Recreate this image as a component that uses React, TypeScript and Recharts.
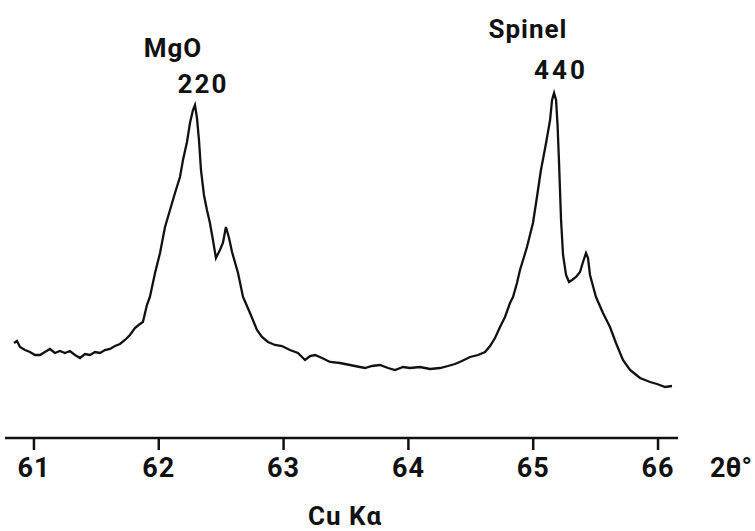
import React from 'react';
import { LineChart, Line, XAxis, YAxis } from 'recharts';

// 2θ (degrees)
const twoTheta = [
  60.84, 60.864, 60.888, 60.928, 60.968, 61.008, 61.048, 61.088, 61.128, 61.168,
  61.208, 61.248, 61.288, 61.329, 61.369, 61.409, 61.449, 61.489, 61.529, 61.569,
  61.609, 61.649, 61.689, 61.729, 61.769, 61.809, 61.849, 61.873, 61.905, 61.929,
  61.97, 62.01, 62.05, 62.09, 62.13, 62.17, 62.194, 62.226, 62.25, 62.274,
  62.29, 62.306, 62.322, 62.338, 62.362, 62.386, 62.41, 62.434, 62.458, 62.49,
  62.514, 62.538, 62.563, 62.587, 62.635, 62.675, 62.731, 62.787, 62.827, 62.875,
  62.931, 62.987, 63.051, 63.115, 63.172, 63.212, 63.252, 63.308, 63.372, 63.452,
  63.532, 63.612, 63.652, 63.708, 63.772, 63.837, 63.893, 63.957, 64.013, 64.093,
  64.173, 64.253, 64.317, 64.373, 64.429, 64.494, 64.558, 64.614, 64.654, 64.694,
  64.734, 64.774, 64.814, 64.838, 64.87, 64.894, 64.926, 64.95, 64.974, 64.998,
  65.03, 65.062, 65.103, 65.135, 65.151, 65.167, 65.183, 65.195, 65.207, 65.223,
  65.239, 65.263, 65.287, 65.311, 65.343, 65.375, 65.399, 65.423, 65.439, 65.455,
  65.503, 65.559, 65.615, 65.663, 65.719, 65.776, 65.816, 65.856, 65.896, 65.936,
  65.992, 66.056, 66.112,
];

// intensity, arbitrary units
const intensity = [
  95, 97, 91, 88, 86, 83, 83, 86, 89, 85,
  87, 85, 87, 83, 80, 84, 83, 86, 85, 88,
  89, 92, 94, 98, 103, 110, 114, 116, 133, 141,
  165, 185, 211, 228, 245, 261, 278, 296, 315, 328,
  333, 320, 298, 268, 243, 228, 215, 198, 180, 188,
  195, 211, 200, 186, 165, 141, 125, 108, 101, 96,
  93, 92, 88, 85, 78, 82, 83, 80, 76, 75,
  73, 71, 70, 72, 73, 70, 68, 71, 70, 71,
  69, 70, 72, 74, 77, 81, 83, 86, 92, 100,
  111, 121, 135, 141, 155, 168, 181, 191, 203, 215,
  241, 268, 295, 318, 338, 345, 338, 313, 275, 218,
  183, 163, 156, 158, 161, 166, 176, 185, 180, 163,
  141, 125, 111, 95, 78, 68, 64, 60, 58, 56,
  54, 51, 52,
];

const xTicks = [61, 62, 63, 64, 65, 66];

const data = twoTheta.map((t, i) => ({ t, y: intensity[i] }));

const FONT = 'Roboto, "Liberation Sans", sans-serif';
const INK = '#111';

export default function App() {
  return (
    <div style={{ position: 'absolute', left: 0, top: 0, width: 755, height: 531, background: '#fff' }}>
      <LineChart width={755} height={531} data={data} margin={{ top: 0, right: 77, bottom: 0, left: 5 }}>
        <XAxis
          dataKey="t"
          type="number"
          domain={[60.768, 66.16]}
          ticks={xTicks}
          allowDataOverflow
          stroke={INK}
          strokeWidth={2.5}
          tickSize={12}
          tickMargin={8}
          tick={{ fill: INK, fontSize: 27, fontFamily: FONT, fontWeight: 700, letterSpacing: 1 }}
          height={93}
        />
        <YAxis hide domain={[0, 438]} />
        <Line
          type="linear"
          dataKey="y"
          stroke={INK}
          strokeWidth={2.3}
          dot={false}
          isAnimationActive={false}
        />
      </LineChart>
      <svg width={755} height={531} style={{ position: 'absolute', left: 0, top: 0, pointerEvents: 'none' }}>
        <g fill={INK} fontFamily={FONT} fontWeight={700} fontSize={26} textAnchor="middle">
          <text x={173} y={57} letterSpacing={1}>MgO</text>
          <text x={203} y={93} letterSpacing={2}>220</text>
          <text x={528} y={38} letterSpacing={1}>Spinel</text>
          <text x={561} y={79} letterSpacing={3}>440</text>
          <text x={731} y={477} fontSize={27}>2θ°</text>
          <text x={345} y={525} letterSpacing={1}>Cu Kα</text>
        </g>
      </svg>
    </div>
  );
}
